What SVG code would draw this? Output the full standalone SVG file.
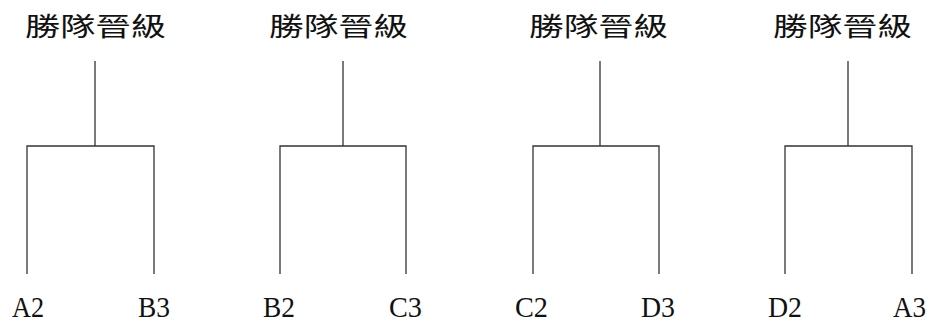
<svg xmlns="http://www.w3.org/2000/svg" width="931" height="324" viewBox="0 0 931 324">
<style>
.hd{font-family:"Noto Sans CJK TC","Noto Sans CJK SC",serif;font-size:26px;fill:#111;}
.lb{font-family:"Liberation Serif",serif;font-size:30px;fill:#111;}
.ln{stroke:#333;stroke-width:1.3;fill:none;}
</style>
<rect width="931" height="324" fill="#fff"/>
<g id="connectors">
<path class="ln" d="M95,61V146M27,274V146H154V274"/>
<path class="ln" d="M343,61V146M280,274V146H406V274"/>
<path class="ln" d="M600,61V146M533,274V146H659V274"/>
<path class="ln" d="M848,61V146M785,274V146H912V274"/>
</g>
<g id="win1"><text class="hd" x="25" y="36" textLength="141" lengthAdjust="spacingAndGlyphs">勝隊晉級</text></g>
<g id="win2"><text class="hd" x="269" y="36" textLength="139" lengthAdjust="spacingAndGlyphs">勝隊晉級</text></g>
<g id="win3"><text class="hd" x="529" y="36" textLength="139" lengthAdjust="spacingAndGlyphs">勝隊晉級</text></g>
<g id="win4"><text class="hd" x="773" y="36" textLength="139" lengthAdjust="spacingAndGlyphs">勝隊晉級</text></g>
<g id="A2"><text class="lb" x="12" y="317" textLength="32" lengthAdjust="spacingAndGlyphs">A2</text></g>
<g id="B3"><text class="lb" x="138" y="317" textLength="32" lengthAdjust="spacingAndGlyphs">B3</text></g>
<g id="B2"><text class="lb" x="263" y="317" textLength="32" lengthAdjust="spacingAndGlyphs">B2</text></g>
<g id="C3"><text class="lb" x="389" y="317" textLength="33" lengthAdjust="spacingAndGlyphs">C3</text></g>
<g id="C2"><text class="lb" x="515" y="317" textLength="33" lengthAdjust="spacingAndGlyphs">C2</text></g>
<g id="D3"><text class="lb" x="641" y="317" textLength="34" lengthAdjust="spacingAndGlyphs">D3</text></g>
<g id="D2"><text class="lb" x="768" y="317" textLength="34" lengthAdjust="spacingAndGlyphs">D2</text></g>
<g id="A3"><text class="lb" x="893" y="317" textLength="33" lengthAdjust="spacingAndGlyphs">A3</text></g>
</svg>
